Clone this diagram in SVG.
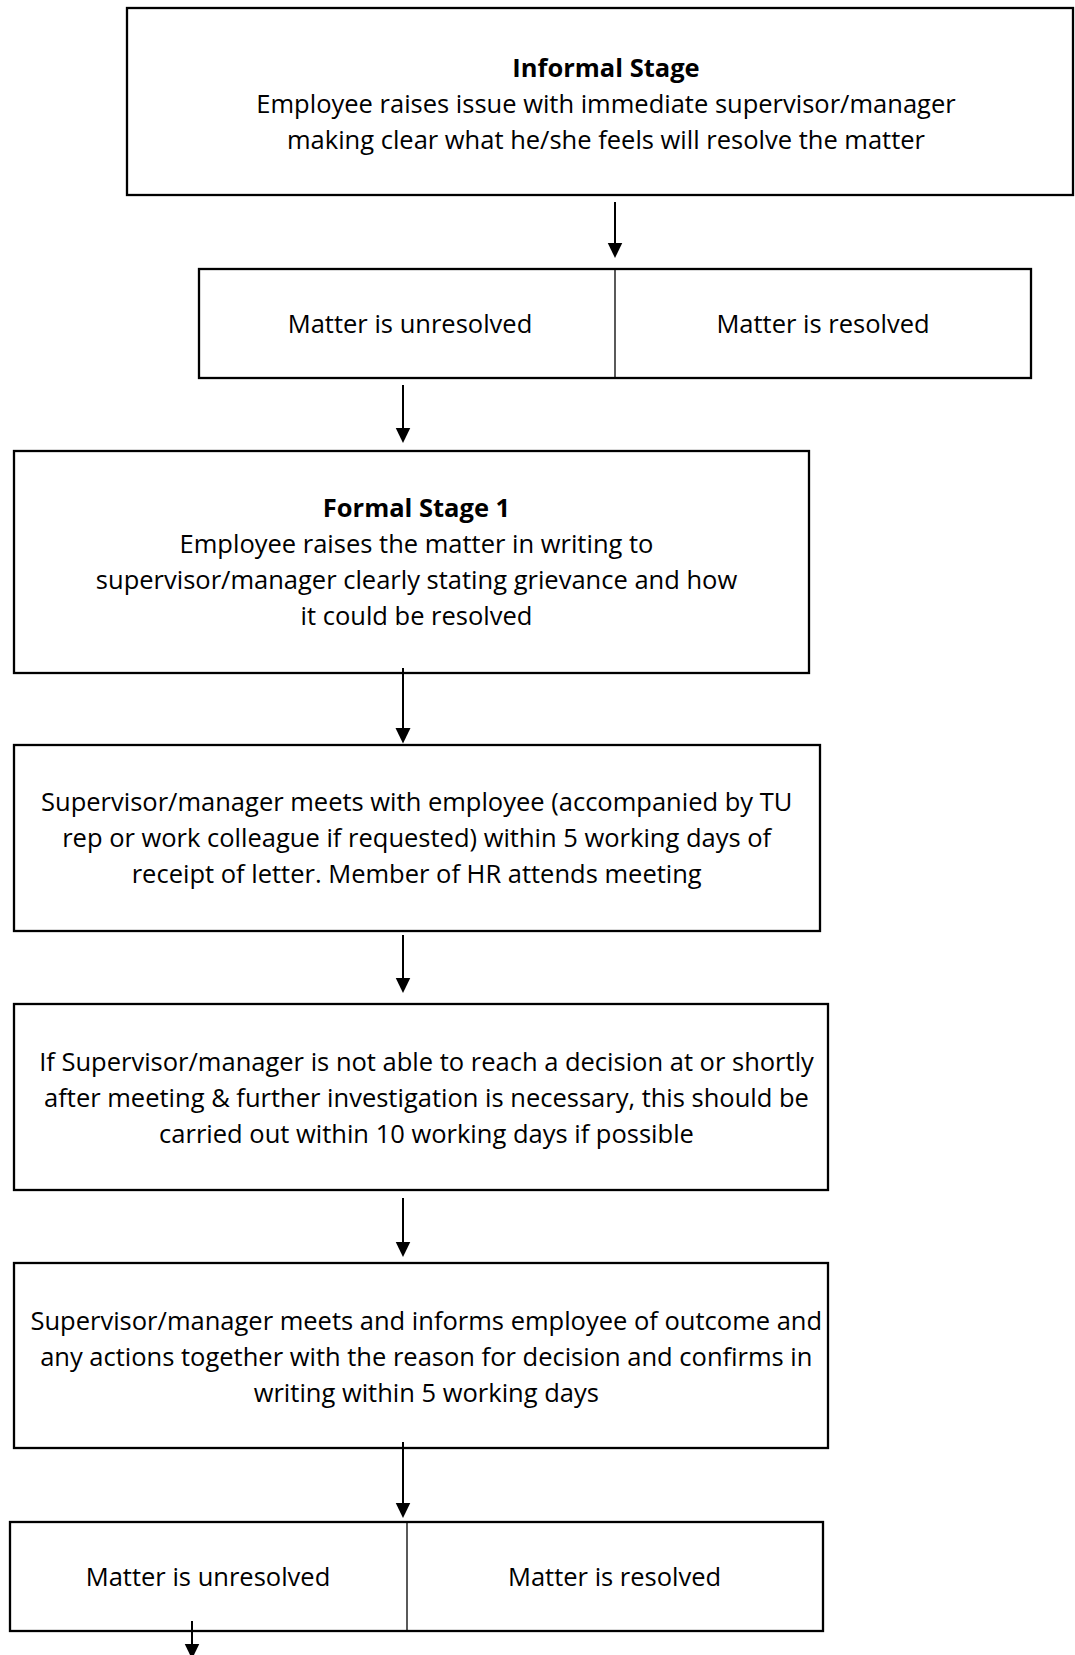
<svg xmlns="http://www.w3.org/2000/svg" width="1075" height="1655" viewBox="0 0 1075 1655">
<style>
.box{fill:#fff;stroke:#000;stroke-width:2.3}
.div{stroke:#000;stroke-width:1.3}
.t{font-family:"Open Sans","Noto Sans","Liberation Sans",sans-serif;font-size:25.5px;fill:#000;text-anchor:middle}
.b{font-weight:bold}
.arr{stroke:#000;stroke-width:2;fill:none;marker-end:url(#ah)}
</style>
<defs>
<marker id="ah" markerUnits="userSpaceOnUse" viewBox="0 0 16 16" markerWidth="16" markerHeight="16" refX="5.5" refY="8" orient="auto">
<path d="M0,0.5 L15.5,8 L0,15.5 Z" fill="#000"/>
</marker>
</defs>
<rect width="1075" height="1655" fill="#fff"/>
<g id="informal-stage">
<rect class="box" x="127" y="8" width="946" height="187"/>
<text class="t b" x="606" y="77">Informal Stage</text>
<text class="t" x="606" y="113">Employee raises issue with immediate supervisor/manager</text>
<text class="t" x="606" y="149">making clear what he/she feels will resolve the matter</text>
</g>
<g id="outcome-1">
<rect class="box" x="199" y="269" width="832" height="109"/>
<line class="div" x1="615" y1="269" x2="615" y2="378"/>
<text class="t" x="410" y="333">Matter is unresolved</text>
<text class="t" x="823" y="333">Matter is resolved</text>
</g>
<g id="formal-stage-1">
<rect class="box" x="14" y="451" width="795" height="222"/>
<text class="t b" x="416.5" y="517">Formal Stage 1</text>
<text class="t" x="416.5" y="553">Employee raises the matter in writing to</text>
<text class="t" x="416.5" y="589">supervisor/manager clearly stating grievance and how</text>
<text class="t" x="416.5" y="625">it could be resolved</text>
</g>
<g id="meeting">
<rect class="box" x="14" y="745" width="806" height="186"/>
<text class="t" x="416.7" y="811">Supervisor/manager meets with employee (accompanied by TU</text>
<text class="t" x="416.7" y="847">rep or work colleague if requested) within 5 working days of</text>
<text class="t" x="416.7" y="883">receipt of letter. Member of HR attends meeting</text>
</g>
<g id="investigation">
<rect class="box" x="14" y="1004" width="814" height="186"/>
<text class="t" x="426.5" y="1071">If Supervisor/manager is not able to reach a decision at or shortly</text>
<text class="t" x="426.5" y="1107">after meeting &amp; further investigation is necessary, this should be</text>
<text class="t" x="426.5" y="1143">carried out within 10 working days if possible</text>
</g>
<g id="outcome-meeting">
<rect class="box" x="14" y="1263" width="814" height="185"/>
<text class="t" x="426.3" y="1330">Supervisor/manager meets and informs employee of outcome and</text>
<text class="t" x="426.3" y="1366">any actions together with the reason for decision and confirms in</text>
<text class="t" x="426.3" y="1402">writing within 5 working days</text>
</g>
<g id="outcome-2">
<rect class="box" x="10" y="1522" width="813" height="109"/>
<line class="div" x1="407" y1="1522" x2="407" y2="1631"/>
<text class="t" x="208" y="1586">Matter is unresolved</text>
<text class="t" x="614.6" y="1586">Matter is resolved</text>
</g>
<g id="connectors">
<line class="arr" x1="615" y1="202" x2="615" y2="248"/>
<line class="arr" x1="403" y1="385" x2="403" y2="433"/>
<line class="arr" x1="403" y1="668" x2="403" y2="733.5"/>
<line class="arr" x1="403" y1="935" x2="403" y2="983"/>
<line class="arr" x1="403" y1="1198" x2="403" y2="1247"/>
<line class="arr" x1="403" y1="1442" x2="403" y2="1508"/>
<line class="arr" x1="192" y1="1621" x2="192" y2="1649"/>
</g>
</svg>
